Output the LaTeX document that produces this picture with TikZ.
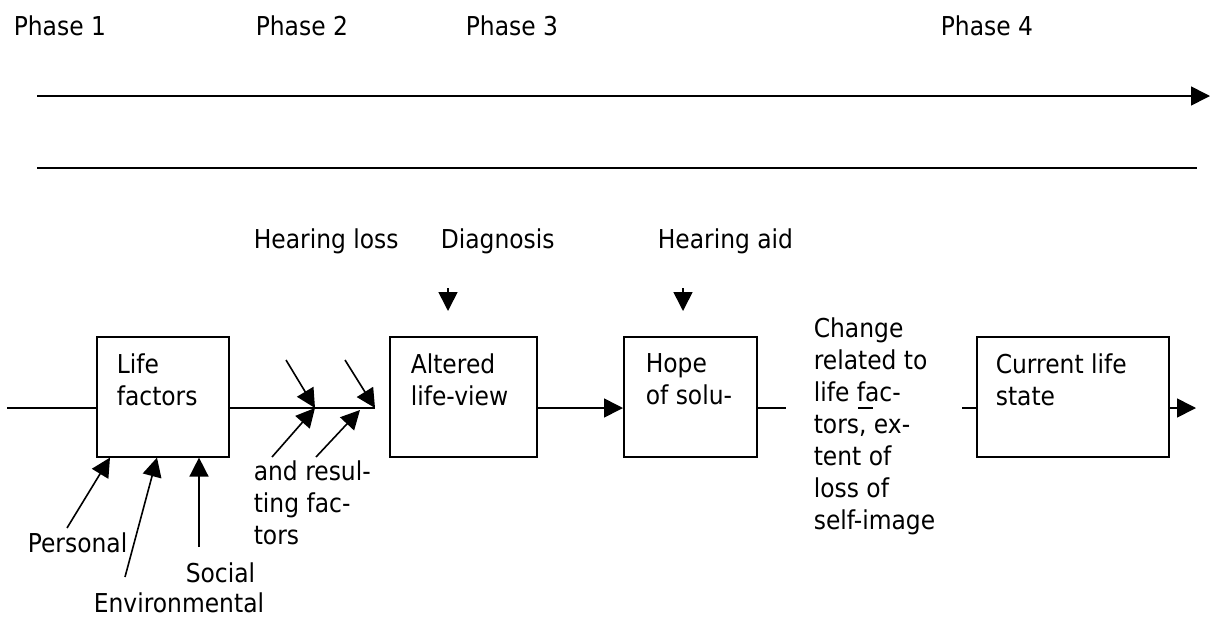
\documentclass[tikz,border=0pt]{standalone}
\usepackage{fontspec}
\setmainfont{DejaVu Sans}[FakeStretch=0.9]
\usetikzlibrary{arrows.meta}

\begin{document}
\begin{tikzpicture}[x=1pt, y=-1pt, line width=1.6pt,
    box/.style={draw, minimum height=120pt, anchor=north west, inner sep=0pt},
    lbl/.style={anchor=north west, inner sep=0pt, align=left, font=\fontsize{26}{32}\selectfont},
    tip/.style={-{Triangle[length=19pt, width=19pt]}}]
    \useasboundingbox (0,0) rectangle (1212,619);

    % phases and time line
    \node[lbl] (ph1) at (13,15) {Phase 1};
    \node[lbl] (ph2) at (255,15) {Phase 2};
    \node[lbl] (ph3) at (465,15) {Phase 3};
    \node[lbl] (ph4) at (940,15) {Phase 4};
    \coordinate (ta) at (37,96);
    \coordinate (tb) at (1210,96);
    \draw[tip] (ta) -- (tb);
    \coordinate (sa) at (37,168);
    \coordinate (sb) at (1197,168);
    \draw (sa) -- (sb);

    % events
    \node[lbl] (loss) at (253,228) {Hearing loss};
    \node[lbl] (diag) at (440,228) {Diagnosis};
    \node[lbl] (aid) at (657,228) {Hearing aid};

    % boxes
    \node[box, minimum width=132pt] (life) at (96,336) {};
    \node[box, minimum width=147pt] (alt) at (389,336) {};
    \node[box, minimum width=133pt] (hope) at (623,336) {};
    \node[box, minimum width=192pt] (cur) at (976,336) {};
    \node[lbl] (lifet) at (116,353) {Life\\factors};
    \node[lbl] (altt) at (410,353) {Altered\\life-view};
    \node[lbl] (hopet) at (645,353) {Hope\\of solu-};
    \node[lbl] (curt) at (995,353) {Current life\\state};
    \node[lbl] (chg) at (813,317) {Change\\related to\\life fac-\\tors, ex-\\tent of\\loss of\\self-image};
    \node[lbl] (res) at (253,460) {and resul-\\ting fac-\\tors};
    \node[lbl] (pers) at (27,532) {Personal};
    \node[lbl] (soc) at (185,562) {Social};
    \node[lbl] (env) at (93,592) {Environmental};

    % main line
    \coordinate (in) at (7,408);
    \coordinate (hl) at (375,408);
    \coordinate (c1) at (786,408);
    \coordinate (c2) at (962,408);
    \coordinate (out) at (1196,408);
    \draw (in) -- (in -| life.west);
    \draw (in -| life.east) -- (hl);
    \draw[tip] (in -| alt.east) -- (in -| hope.west);
    \draw (in -| hope.east) -- (c1);
    \draw (c2) -- (in -| cur.west);
    \draw[tip] (in -| cur.east) -- (out);
    \coordinate (g1) at (858,408);
    \coordinate (g2) at (873,408);
    \draw (g1) -- (g2);

    % hearing loss arrows
    \coordinate (h1) at (286,360);
    \coordinate (h2) at (345,360);
    \coordinate (h3) at (272,457);
    \coordinate (h4) at (316,457);
    \coordinate (m1) at (315,408);
    \coordinate (m2) at (360,410);
    \draw[tip] (h1) -- (m1);
    \draw[tip] (h2) -- (hl);
    \draw[tip] (h3) -- (m1);
    \draw[tip] (h4) -- (m2);

    % diagnosis and hearing aid
    \coordinate (d1) at (448,288);
    \coordinate (d2) at (448,311);
    \draw[tip] (d1) -- (d2);
    \coordinate (e1) at (683,288);
    \coordinate (e2) at (683,311);
    \draw[tip] (e1) -- (e2);

    % life factors inputs
    \coordinate (p1) at (67,528);
    \coordinate (p2) at (125,577);
    \coordinate (p3) at (199,547);
    \draw[tip] (p1) -- (life.south west -| 110,0);
    \draw[tip] (p2) -- (life.south west -| 157,0);
    \draw[tip] (p3) -- (life.south west -| 199,0);
\end{tikzpicture}
\end{document}
